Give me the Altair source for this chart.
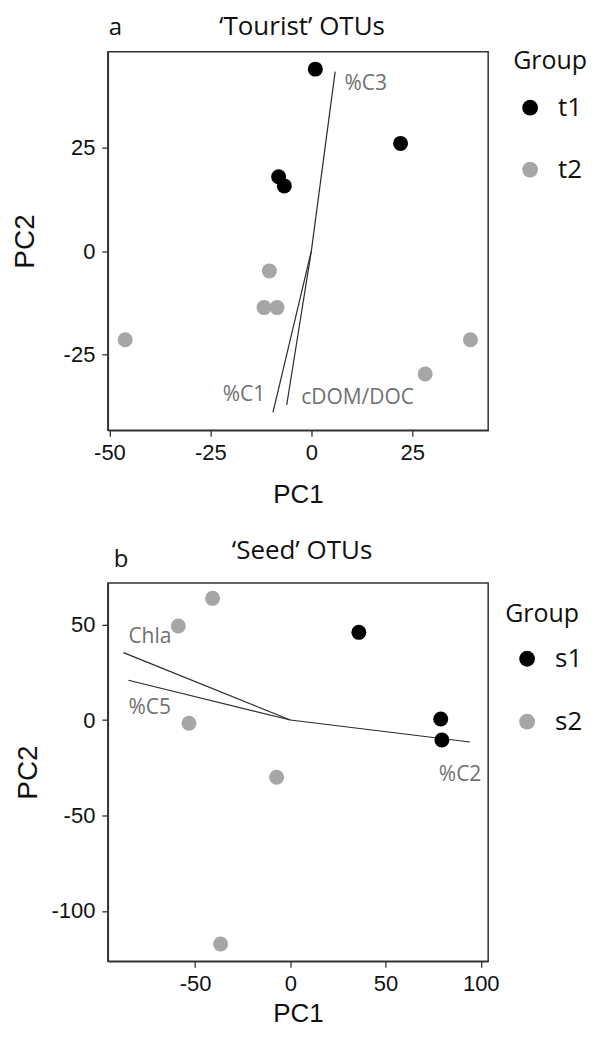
import altair as alt
import pandas as pd

# ---------------- Panel a: 'Tourist' OTUs ----------------
a_pc1 = [1.0, 22.1, -8.1, -6.7, -10.4, -11.7, -8.5, -46.1, 39.4, 28.2]
a_pc2 = [44.1, 26.1, 18.0, 15.8, -4.8, -13.7, -13.7, -21.5, -21.5, -29.8]
a_group = ["t1", "t1", "t1", "t1", "t2", "t2", "t2", "t2", "t2", "t2"]

a_vec_names = ["%C3", "%C1", "cDOM/DOC"]
a_vec_x = [5.9, -9.5, -6.1]
a_vec_y = [43.5, -39.1, -37.3]
a_lab_x = [8.2, -11.4, -2.5]
a_lab_y = [40.4, -34.8, -35.5]
a_lab_side = ["left", "right", "left"]

a_xticks = [-50, -25, 0, 25]
a_yticks = [-25, 0, 25]
a_xdomain = [-50.4, 43.8]
a_ydomain = [-43.4, 48.3]

# ---------------- Panel b: 'Seed' OTUs ----------------
b_pc1 = [36.0, 79.0, 79.6, -40.8, -58.8, -53.2, -7.2, -36.6]
b_pc2 = [45.9, 0.5, -10.5, 63.7, 49.2, -1.7, -30.0, -117.3]
b_group = ["s1", "s1", "s1", "s2", "s2", "s2", "s2", "s2"]

b_vec_names = ["Chla", "%C5", "%C2"]
b_vec_x = [-87.6, -85.0, 94.4]
b_vec_y = [35.3, 20.8, -11.5]
b_lab_x = [-85.0, -85.0, 78.0]
b_lab_y = [43.3, 6.1, -28.8]
b_lab_side = ["left", "left", "left"]

b_xticks = [-50, 0, 50, 100]
b_yticks = [-100, -50, 0, 50]
b_xdomain = [-95.8, 103.9]
b_ydomain = [-126.3, 71.8]

W, H = 381, 379
AXIS_FONT = "Liberation Sans"
TXT_FONT = "Open Sans"
HYPHEN = "replace(datum.label, '\u2212', '-')"


def panel(pc1, pc2, group, groups, vnames, vx, vy, lx, ly, side,
          xticks, yticks, xdom, ydom, title, tag, title_y, tag_x, tag_y,
          legend_kw, xtitle_pad, ytitle_pad):
    pts = pd.DataFrame({"PC1": pc1, "PC2": pc2, "Group": group})
    vec = pd.DataFrame({"name": vnames, "x0": [0] * len(vnames), "y0": [0] * len(vnames),
                        "vx": vx, "vy": vy, "lx": lx, "ly": ly, "side": side})
    xs = alt.Scale(domain=xdom, nice=False, zero=False)
    ys = alt.Scale(domain=ydom, nice=False, zero=False)
    xax = alt.Axis(values=xticks, title="PC1", grid=False, labelFont=AXIS_FONT,
                   labelFontSize=22, labelColor="#111", titleFont=AXIS_FONT,
                   titleFontSize=26, titleFontWeight="normal", titleColor="#111",
                   tickSize=6, tickColor="#333", tickWidth=1.3, labelPadding=6,
                   titlePadding=xtitle_pad, domainColor="#333", domainWidth=1.5,
                   labelExpr=HYPHEN)
    yax = alt.Axis(values=yticks, title="PC2", grid=False, labelFont=AXIS_FONT,
                   labelFontSize=22, labelColor="#111", titleFont=AXIS_FONT,
                   titleFontSize=28, titleFontWeight="normal", titleColor="#111",
                   tickSize=6, tickColor="#333", tickWidth=1.3, labelPadding=7,
                   titlePadding=ytitle_pad, domainColor="#333", domainWidth=1.5,
                   labelExpr=HYPHEN)

    rules = alt.Chart(vec).mark_rule(color="#2b2b2b", strokeWidth=1.2).encode(
        x=alt.X("x0:Q", scale=xs, axis=xax),
        y=alt.Y("y0:Q", scale=ys, axis=yax),
        x2="vx:Q", y2="vy:Q")

    points = alt.Chart(pts).mark_circle(size=225, opacity=1).encode(
        x=alt.X("PC1:Q", scale=xs, axis=xax),
        y=alt.Y("PC2:Q", scale=ys, axis=yax),
        color=alt.Color("Group:N",
                        scale=alt.Scale(domain=groups, range=["#000000", "#a6a6a6"]),
                        legend=alt.Legend(**legend_kw)))

    lab_left = alt.Chart(vec).transform_filter(alt.datum.side == "left").mark_text(
        align="left", baseline="middle", font=TXT_FONT, fontSize=21, color="#707070"
    ).encode(x=alt.X("lx:Q", scale=xs), y=alt.Y("ly:Q", scale=ys), text="name:N")
    lab_right = alt.Chart(vec).transform_filter(alt.datum.side == "right").mark_text(
        align="right", baseline="middle", font=TXT_FONT, fontSize=21, color="#707070"
    ).encode(x=alt.X("lx:Q", scale=xs), y=alt.Y("ly:Q", scale=ys), text="name:N")

    ttl = alt.Chart(pd.DataFrame({"t": [title]})).mark_text(
        align="center", baseline="alphabetic", font=TXT_FONT, fontSize=26, color="#111"
    ).encode(x=alt.value(W / 2 + 4), y=alt.value(title_y), text="t:N")
    tg = alt.Chart(pd.DataFrame({"t": [tag]})).mark_text(
        align="left", baseline="alphabetic", font=TXT_FONT, fontSize=24, color="#111"
    ).encode(x=alt.value(tag_x), y=alt.value(tag_y), text="t:N")

    return alt.layer(rules, points, lab_left, lab_right, ttl, tg).properties(
        width=W, height=H)


leg_common = dict(orient="none", title="Group", titleFont=TXT_FONT, titleFontSize=25,
                  titleFontWeight="normal", titleColor="#111", labelFont=TXT_FONT,
                  labelFontSize=26, labelColor="#111", symbolType="circle",
                  symbolSize=250, symbolStrokeWidth=0, padding=0)

pa = panel(a_pc1, a_pc2, a_group, ["t1", "t2"], a_vec_names, a_vec_x, a_vec_y,
           a_lab_x, a_lab_y, a_lab_side, a_xticks, a_yticks, a_xdomain, a_ydomain,
           "\u2018Tourist\u2019 OTUs", "a", -17, 1, -17,
           dict(leg_common, legendX=406, legendY=-3, titlePadding=21, rowPadding=36,
                symbolOffset=4, labelOffset=15), 18, 24)
pb = panel(b_pc1, b_pc2, b_group, ["s1", "s2"], b_vec_names, b_vec_x, b_vec_y,
           b_lab_x, b_lab_y, b_lab_side, b_xticks, b_yticks, b_xdomain, b_ydomain,
           "\u2018Seed\u2019 OTUs", "b", -24, 6, -16,
           dict(leg_common, legendX=398, legendY=19, titlePadding=19, rowPadding=37,
                symbolOffset=9, labelOffset=15), 6, 8)

chart = alt.vconcat(
    pa, pb, spacing=29, background="white",
    padding={"left": 2, "right": 0, "top": 4, "bottom": 0},
).resolve_scale(color="independent").configure_view(stroke="#333", strokeWidth=1.5)

chart.save("out.html", embed_options={"renderer": "svg", "actions": False})
